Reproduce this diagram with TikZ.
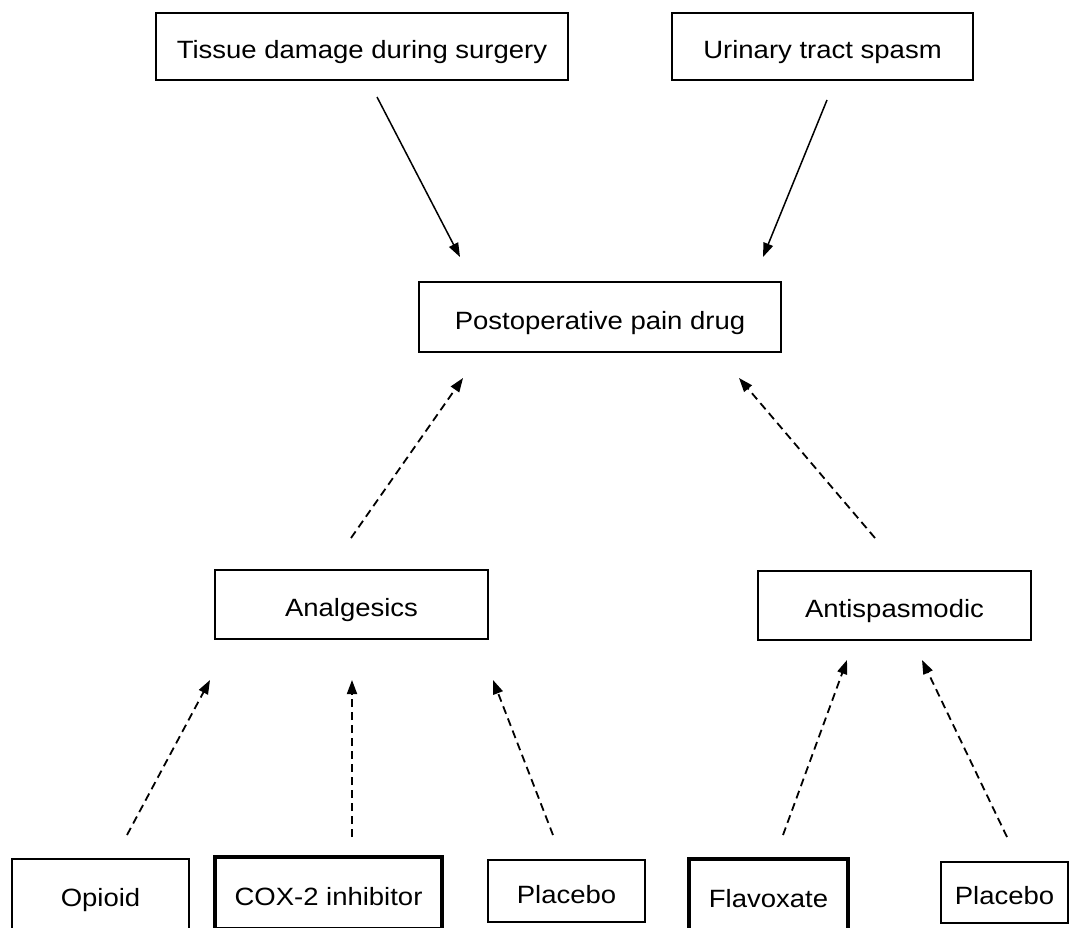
\documentclass[tikz,border=0pt]{standalone}
\usepackage{fontspec}
\setmainfont{Liberation Sans}[FakeStretch=1.1]
\usetikzlibrary{arrows.meta}
\begin{document}
\begin{tikzpicture}[x=1pt,y=-1pt,
  box/.style={draw, line width=1.2pt, inner sep=0pt, text height=24pt, text depth=0pt, font=\fontsize{25}{29}\selectfont},
  boldbox/.style={box, line width=4pt},
  solidarrow/.style={line width=1.5pt, -{Triangle[length=14pt,width=10pt]}},
  dasharrow/.style={line width=1.8pt, dash pattern=on 8pt off 5pt, -{Triangle[length=14pt,width=10pt]}}]
\useasboundingbox (0,0) rectangle (1070,927);
\fill[white] (0,0) rectangle (1070,927);
\clip (0,0) rectangle (1070,927);
% top boxes
\node[box, minimum width=412pt, minimum height=67pt] (tissue) at (362,46.5) {Tissue damage during surgery};
\node[box, minimum width=301pt, minimum height=67pt] (urinary) at (822.5,46.5) {Urinary tract spasm};
\node[box, minimum width=362pt, minimum height=70pt] (post) at (600,317) {Postoperative pain drug};
\node[box, minimum width=273pt, minimum height=69pt] (analg) at (351.5,604.5) {Analgesics};
\node[box, minimum width=273pt, minimum height=69pt] (antisp) at (894.5,605.5) {Antispasmodic};
% bottom boxes
\node[box, minimum width=177pt, minimum height=70pt] (opioid) at (100.5,894) {Opioid};
\node[boldbox, minimum width=227pt, minimum height=72pt] (cox) at (328.5,893) {COX-2 inhibitor};
\node[box, minimum width=157pt, minimum height=62pt] (plac1) at (566.5,891) {Placebo};
\node[boldbox, minimum width=159pt, minimum height=72pt] (flav) at (768.5,895) {Flavoxate};
\node[box, minimum width=127pt, minimum height=61pt] (plac2) at (1004.5,892.5) {Placebo};
% connector end points
\coordinate (tissueOut) at (377,97);
\coordinate (postInA) at (460,257);
\coordinate (urinaryOut) at (827,100);
\coordinate (postInB) at (763,257);
\coordinate (analgOut) at (351,538);
\coordinate (postInC) at (463,378);
\coordinate (antispOut) at (875,538);
\coordinate (postInD) at (739,378);
\coordinate (opioidOut) at (127,835);
\coordinate (analgInA) at (210,680);
\coordinate (coxOut) at (352,837);
\coordinate (analgInB) at (352,680);
\coordinate (plac1Out) at (553,835);
\coordinate (analgInC) at (493,680);
\coordinate (flavOut) at (783,835);
\coordinate (antispInA) at (847,660);
\coordinate (plac2Out) at (1007,837);
\coordinate (antispInB) at (922,660);
% connectors
\draw[solidarrow] (tissueOut) -- (postInA);
\draw[solidarrow] (urinaryOut) -- (postInB);
\draw[dasharrow] (analgOut) -- (postInC);
\draw[dasharrow] (antispOut) -- (postInD);
\draw[dasharrow] (opioidOut) -- (analgInA);
\draw[dasharrow] (coxOut) -- (analgInB);
\draw[dasharrow] (plac1Out) -- (analgInC);
\draw[dasharrow] (flavOut) -- (antispInA);
\draw[dasharrow] (plac2Out) -- (antispInB);
\end{tikzpicture}
\end{document}
